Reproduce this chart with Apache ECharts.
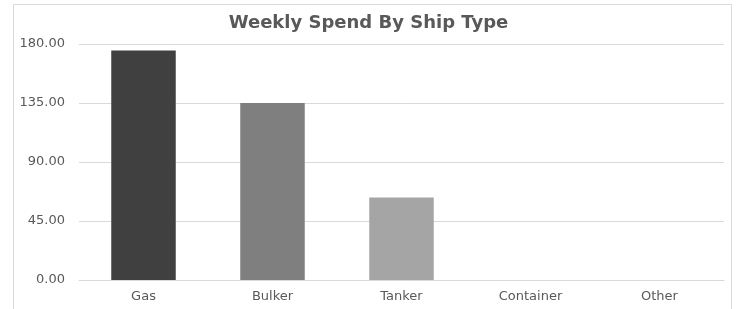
<!DOCTYPE html>
<html>
<head>
<meta charset="utf-8">
<script src="https://cdn.jsdelivr.net/npm/echarts@6/dist/echarts.min.js"></script>
<style>html,body{margin:0;padding:0;background:#fff}#c{width:737px;height:309px}</style>
</head>
<body>
<div id="c"></div>
<script>
var categories = ['Gas', 'Bulker', 'Tanker', 'Container', 'Other'];
var spend = [175, 135, 63, 0, 0];
var barColors = ['#404040', '#7f7f7f', '#a5a5a5', '#bfbfbf', '#d0d0d0'];
var yTicks = [0, 45, 90, 135, 180];

var chart = echarts.init(document.getElementById('c'), null, {renderer: 'canvas'});
chart.setOption({
  animation: false,
  backgroundColor: '#ffffff',
  textStyle: {fontFamily: 'DejaVu Sans'},
  title: {
    text: 'Weekly Spend By Ship Type',
    left: 'center',
    top: 9,
    textStyle: {fontFamily: 'DejaVu Sans', fontSize: 18, fontWeight: 'bold', color: '#595959'}
  },
  graphic: [{
    type: 'rect',
    shape: {x: 13.5, y: 4.5, width: 718, height: 320},
    style: {fill: 'none', stroke: '#d9d9d9', lineWidth: 1},
    silent: true
  }],
  grid: {left: 79, right: 13, top: 44, bottom: 29, containLabel: false},
  xAxis: {
    type: 'category',
    data: categories,
    axisLine: {show: true, lineStyle: {color: '#d9d9d9'}},
    axisTick: {show: false},
    axisLabel: {color: '#595959', fontSize: 13, fontFamily: 'DejaVu Sans', margin: 10}
  },
  yAxis: {
    type: 'value',
    min: yTicks[0],
    max: yTicks[yTicks.length - 1],
    interval: yTicks[1] - yTicks[0],
    axisLine: {show: false},
    axisTick: {show: false},
    splitLine: {lineStyle: {color: '#d9d9d9'}},
    axisLabel: {color: '#595959', fontSize: 13, fontFamily: 'DejaVu Sans', margin: 14,
      formatter: function (v) { return v.toFixed(2); }}
  },
  series: [{
    type: 'bar',
    barWidth: '50%',
    data: spend.map(function (v, i) { return {value: v, itemStyle: {color: barColors[i]}}; })
  }]
});
</script>
</body>
</html>
